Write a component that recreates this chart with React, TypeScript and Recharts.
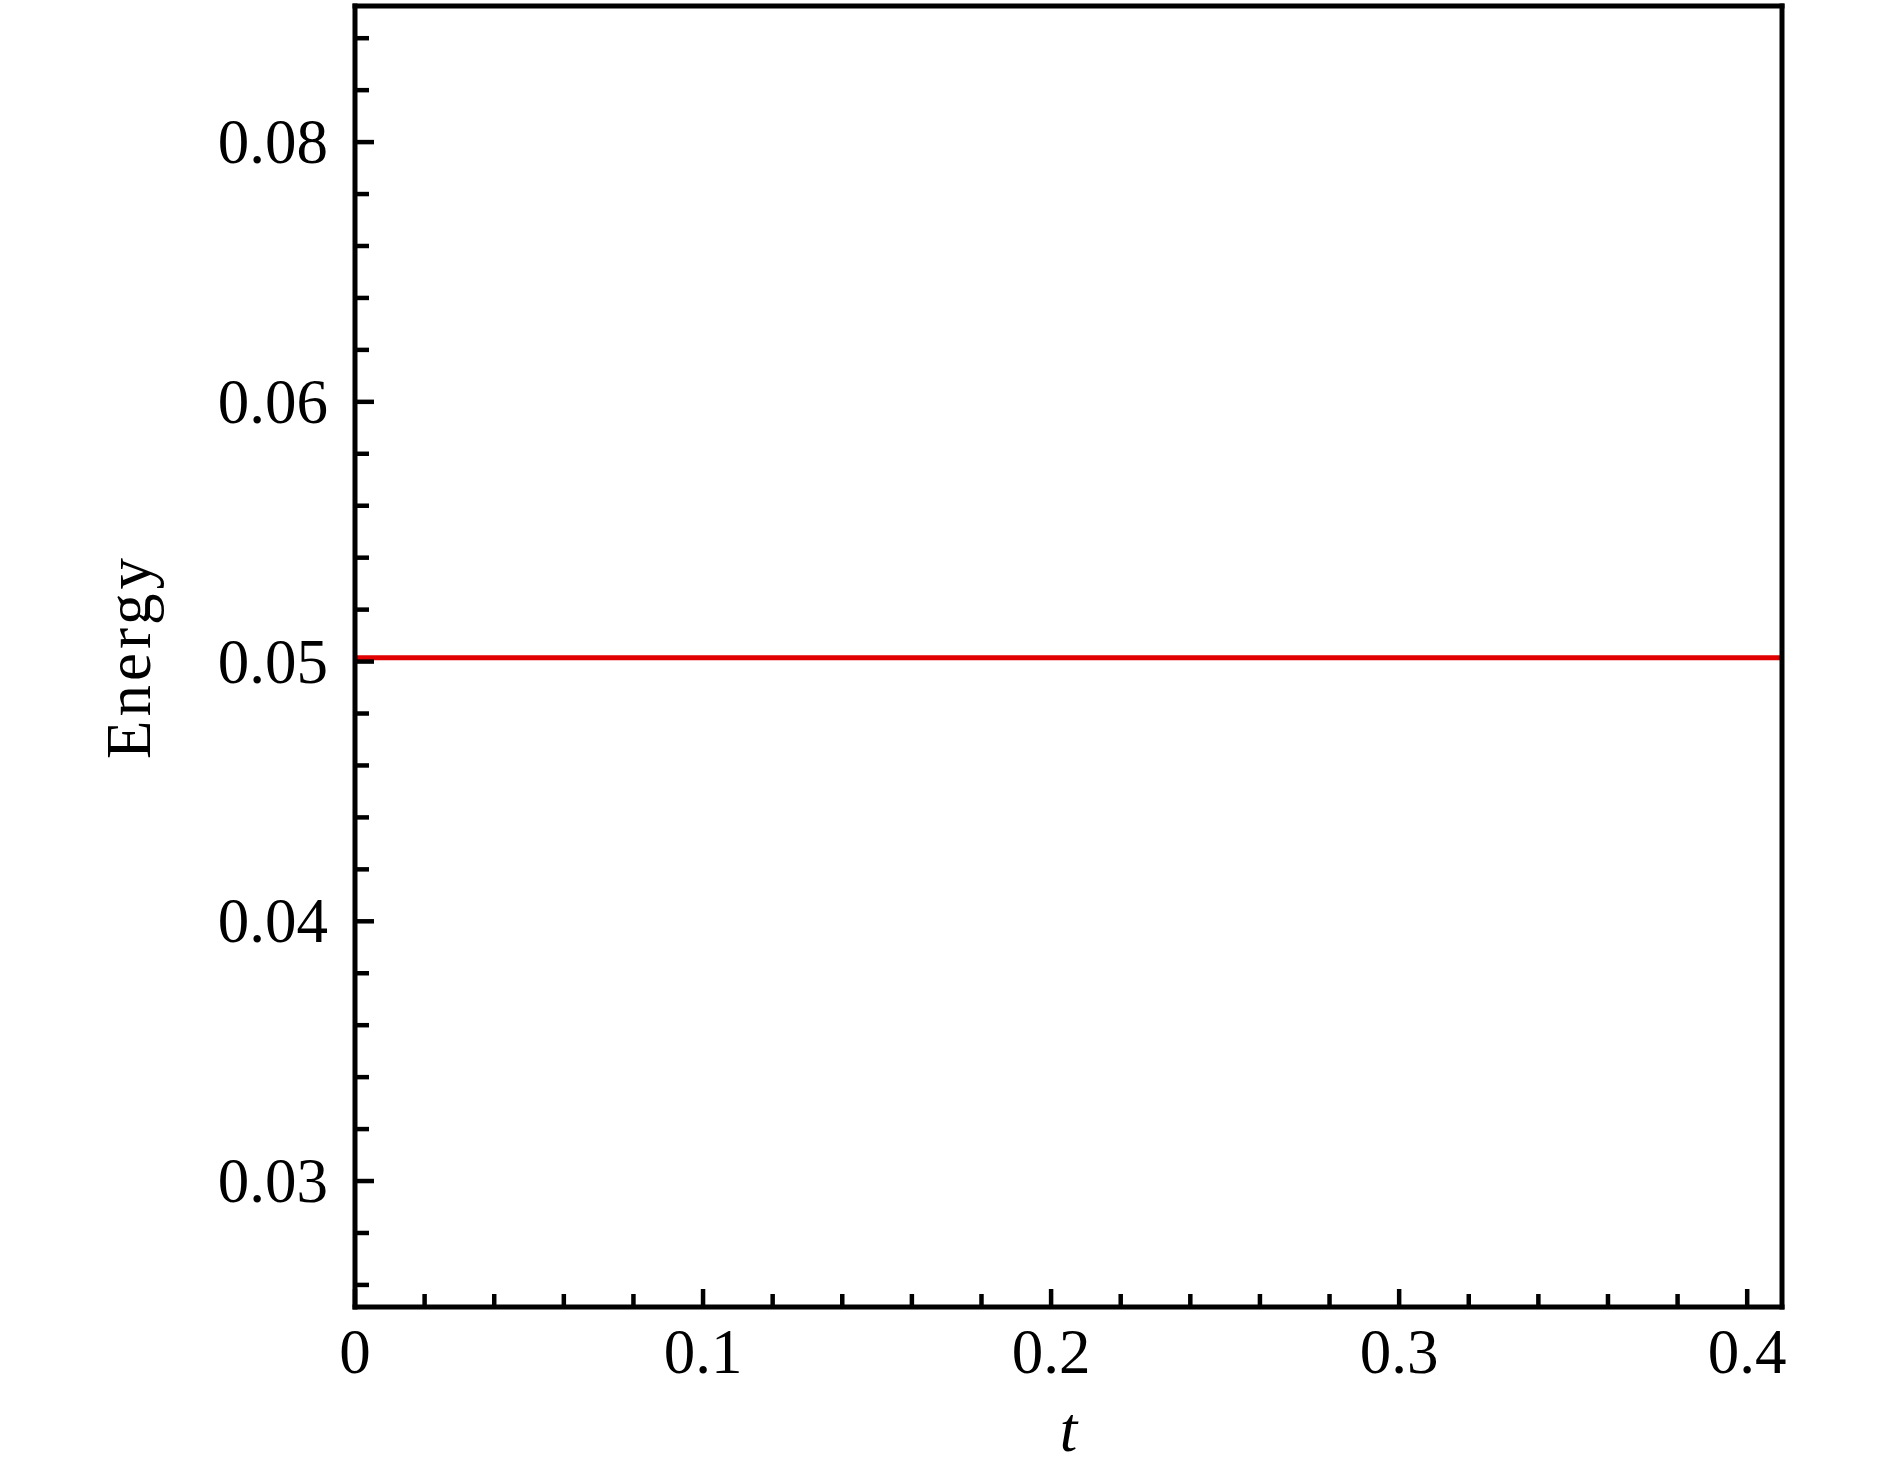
import { LineChart, Line, XAxis, YAxis, Label } from "recharts";

// time samples and energy (constant line)
const tValues = [0, 0.1, 0.2, 0.3, 0.41];
const energy = [0.05015, 0.05015, 0.05015, 0.05015, 0.05015];

const xTicks = [
  0, 0.02, 0.04, 0.06, 0.08, 0.1, 0.12, 0.14, 0.16, 0.18, 0.2, 0.22, 0.24,
  0.26, 0.28, 0.3, 0.32, 0.34, 0.36, 0.38, 0.4,
];
const xMajorTicks = [0, 0.1, 0.2, 0.3, 0.4];
const xTickLabels = ["0", "0.1", "0.2", "0.3", "0.4"];

const yTicks = [
  0.026, 0.028, 0.03, 0.032, 0.034, 0.036, 0.038, 0.04, 0.042, 0.044, 0.046,
  0.048, 0.05, 0.052, 0.054, 0.056, 0.058, 0.06, 0.062, 0.064, 0.066, 0.068,
  0.07, 0.072, 0.074,
];
const yMajorTicks = [0.03, 0.04, 0.05, 0.06, 0.07];
const yTickLabels = ["0.03", "0.04", "0.05", "0.06", "0.08"];

const data = tValues.map((t, i) => ({ t, energy: energy[i] }));

const FONT = "'Liberation Serif', 'Times New Roman', serif";
const FONT_SIZE = 63;

function majorIndex(list: number[], v: number) {
  return list.findIndex((m) => Math.abs(m - v) < 1e-9);
}

function XTick(props: any) {
  const { x, y, payload } = props;
  const i = majorIndex(xMajorTicks, payload.value);
  const major = i >= 0;
  return (
    <g>
      <line x1={x} x2={x} y1={y} y2={y - (major ? 18 : 13)} stroke="#000" strokeWidth={4.5} />
      {major && (
        <text x={x} y={y + 66} textAnchor="middle" fontFamily={FONT} fontSize={FONT_SIZE} fill="#000">
          {xTickLabels[i]}
        </text>
      )}
    </g>
  );
}

function YTick(props: any) {
  const { x, y, payload } = props;
  const i = majorIndex(yMajorTicks, payload.value);
  const major = i >= 0;
  return (
    <g>
      <line x1={x} x2={x + (major ? 19 : 14)} y1={y} y2={y} stroke="#000" strokeWidth={4.5} />
      {major && (
        <text x={x - 27} y={y + 21} textAnchor="end" fontFamily={FONT} fontSize={FONT_SIZE} fill="#000">
          {yTickLabels[i]}
        </text>
      )}
    </g>
  );
}

const frameLine = { stroke: "#000", strokeWidth: 5, strokeLinecap: "square" as const };

export default function App() {
  return (
    <div style={{ position: "absolute", left: 0, top: 0, background: "#fff" }}>
      <LineChart
        width={1890}
        height={1465}
        data={data}
        margin={{ top: 5, right: 107, bottom: 157, left: 0 }}
      >
        <XAxis
          dataKey="t"
          type="number"
          domain={[0, 0.41]}
          ticks={xTicks}
          interval={0}
          height={1}
          tickSize={0}
          tickMargin={0}
          tickLine={false}
          tick={<XTick />}
          axisLine={frameLine}
          allowDataOverflow
        >
          <Label
            content={(p: any) => {
              const vb = p.viewBox;
              return (
                <text
                  x={vb.x + vb.width / 2}
                  y={vb.y + 144}
                  textAnchor="middle"
                  fontFamily={FONT}
                  fontStyle="italic"
                  fontSize={FONT_SIZE}
                  fill="#000"
                >
                  t
                </text>
              );
            }}
          />
        </XAxis>
        <XAxis
          xAxisId="top"
          orientation="top"
          dataKey="t"
          type="number"
          domain={[0, 0.41]}
          height={1}
          tick={false}
          tickLine={false}
          axisLine={frameLine}
          allowDataOverflow
        />
        <YAxis
          type="number"
          domain={[0.02515, 0.07524]}
          ticks={yTicks}
          interval={0}
          width={355}
          tickSize={0}
          tickMargin={0}
          tickLine={false}
          tick={<YTick />}
          axisLine={frameLine}
          allowDataOverflow
        >
          <Label
            content={(p: any) => {
              const vb = p.viewBox;
              const cy = vb.y + vb.height / 2;
              return (
                <text
                  x={150}
                  y={cy}
                  textAnchor="middle"
                  transform={`rotate(-90, 150, ${cy})`}
                  fontFamily={FONT}
                  fontSize={FONT_SIZE}
                  letterSpacing={4}
                  fill="#000"
                >
                  Energy
                </text>
              );
            }}
          />
        </YAxis>
        <YAxis
          yAxisId="right"
          orientation="right"
          type="number"
          domain={[0.02515, 0.07524]}
          width={1}
          tick={false}
          tickLine={false}
          axisLine={frameLine}
          allowDataOverflow
        />
        <Line
          dataKey="energy"
          type="linear"
          stroke="#e00000"
          strokeWidth={5}
          dot={false}
          isAnimationActive={false}
        />
      </LineChart>
    </div>
  );
}
